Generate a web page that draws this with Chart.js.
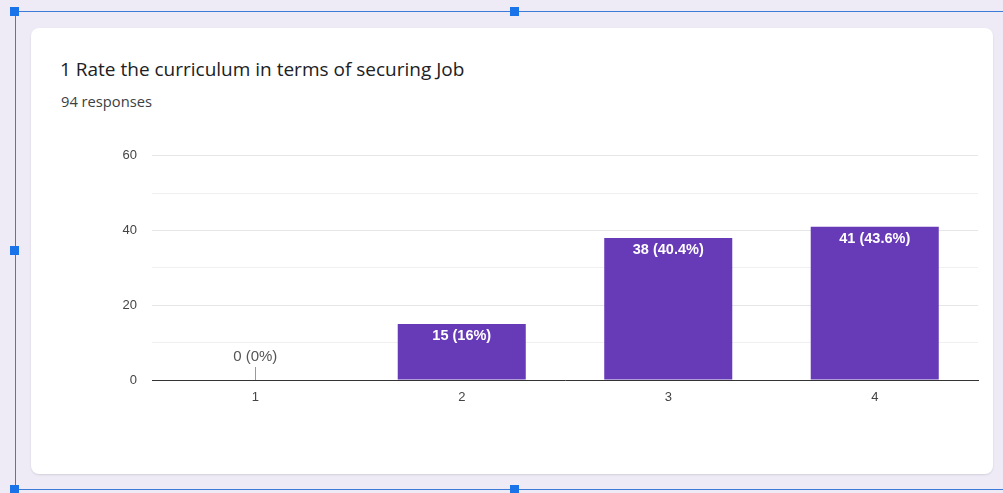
<!DOCTYPE html>
<html>
<head>
<meta charset="utf-8">
<script src="https://cdn.jsdelivr.net/npm/chart.js@4"></script>
<style>
  html, body { margin:0; padding:0; }
  body { width:1003px; height:493px; background:#eeebf6; position:relative; overflow:hidden; font-family:"Open Sans", Roboto, sans-serif; }
  #card { position:absolute; left:31px; top:28px; width:962px; height:446px; background:#fff; border-radius:8px; box-shadow:0 1px 2px rgba(60,64,67,0.15); }
  #title { position:absolute; left:60px; top:57px; font-size:19px; line-height:24px; color:#202124; font-family:"Open Sans", sans-serif; white-space:nowrap; }
  #sub { position:absolute; left:61px; top:91px; font-size:14.7px; line-height:20px; color:#3c4043; font-family:"Open Sans", sans-serif; white-space:nowrap; }
  #wrap { position:absolute; left:100px; top:133px; width:890px; height:282px; }
  .ln { position:absolute; background:#3d7bd9; }
  .hd { position:absolute; width:9px; height:9px; background:#1a73e8; }
</style>
</head>
<body>
<div id="card"></div>
<div id="title">1 Rate the curriculum in terms of securing Job</div>
<div id="sub">94 responses</div>
<div id="wrap"><canvas id="c"></canvas></div>
<div class="ln" style="left:15px;top:11px;width:988px;height:1px;"></div>
<div class="ln" style="left:15px;top:489px;width:988px;height:1px;"></div>
<div class="ln" style="left:15px;top:11px;width:1px;height:479px;"></div>
<div class="hd" style="left:10px;top:7px;"></div>
<div class="hd" style="left:510px;top:7px;"></div>
<div class="hd" style="left:10px;top:246px;"></div>
<div class="hd" style="left:10px;top:485px;"></div>
<div class="hd" style="left:510px;top:485px;"></div>
<script>
const categories = ['1', '2', '3', '4'];
const counts = [0, 15, 38, 41];
const percents = ['0%', '16%', '40.4%', '43.6%'];
const yTicks = [0, 20, 40, 60];

const labelPlugin = {
  id: 'barLabels',
  afterDatasetsDraw(chart) {
    const ctx = chart.ctx;
    const meta = chart.getDatasetMeta(0);
    const y0 = chart.scales.y.getPixelForValue(0);
    ctx.save();
    ctx.textAlign = 'center';
    ctx.textBaseline = 'middle';
    meta.data.forEach((bar, i) => {
      const txt = counts[i] + ' (' + percents[i] + ')';
      if (counts[i] > 0) {
        ctx.fillStyle = '#ffffff';
        ctx.font = 'bold 14.5px "Liberation Sans", Arial, sans-serif';
        ctx.fillText(txt, bar.x, bar.y + 12);
      } else {
        ctx.fillStyle = '#555555';
        ctx.font = '15px "Liberation Sans", Arial, sans-serif';
        ctx.fillText(txt, bar.x, y0 - 23);
        ctx.strokeStyle = '#999999';
        ctx.lineWidth = 1;
        ctx.beginPath();
        ctx.moveTo(Math.round(bar.x) + 0.5, y0 - 13);
        ctx.lineTo(Math.round(bar.x) + 0.5, y0);
        ctx.stroke();
      }
    });
    ctx.restore();
  }
};

new Chart(document.getElementById('c'), {
  type: 'bar',
  data: {
    labels: categories,
    datasets: [{
      data: counts,
      backgroundColor: '#673ab7',
      barPercentage: 0.62,
      categoryPercentage: 1.0
    }]
  },
  options: {
    responsive: true,
    maintainAspectRatio: false,
    animation: false,
    layout: { padding: { top: 10, right: 12, left: 0, bottom: 0 } },
    plugins: { legend: { display: false }, tooltip: { enabled: false } },
    scales: {
      x: {
        grid: { display: false, drawTicks: false },
        border: { display: true, color: '#333333', width: 1 },
        ticks: { color: '#444444', padding: 10, font: { family: '"Liberation Sans", Arial, sans-serif', size: 13 } },
        afterFit(s) { s.height = 35; }
      },
      y: {
        min: yTicks[0],
        max: yTicks[yTicks.length - 1],
        ticks: {
          stepSize: 10,
          color: '#444444',
          padding: 15,
          font: { family: '"Liberation Sans", Arial, sans-serif', size: 13 },
          callback: (v) => yTicks.includes(v) ? String(v) : ''
        },
        grid: {
          drawTicks: false,
          color: (c) => (c.tick && yTicks.includes(c.tick.value)) ? '#e6e6e6' : '#f0f0f0'
        },
        border: { display: false },
        afterFit(s) { s.width = 52; }
      }
    }
  },
  plugins: [labelPlugin]
});
</script>
</body>
</html>
